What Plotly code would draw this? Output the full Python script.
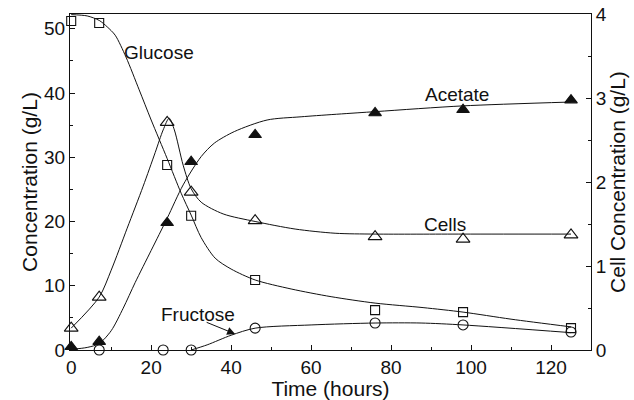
import plotly.graph_objects as go

# ---- measured data (markers) ----
time_pts = [0, 7, 24, 30, 46, 76, 98, 125]
glucose = [51.2, 50.9, 28.8, 20.9, 10.9, 6.2, 5.9, 3.4]
acetate = [0.5, 1.3, 19.8, 29.3, 33.5, 36.9, 37.4, 38.9]
cells = [0.26, 0.63, 2.71, 1.88, 1.54, 1.35, 1.32, 1.37]
fructose_t = [7, 23, 30, 46, 76, 98, 125]
fructose = [0, 0, 0, 3.4, 4.2, 3.9, 2.8]

# ---- fitted curves ----
glucose_fit_t = [0, 4, 7, 9, 11, 13.7, 17, 20, 24, 27.5, 30, 32.5, 36, 40, 46, 55, 65, 76, 88, 98, 110, 125]
glucose_fit = [52.2, 52.0, 51.3, 50.3, 49.0, 45.6, 40.5, 35.8, 29.8, 24.4, 21.0, 17.5, 14.3, 12.6, 10.9, 9.5, 8.3, 7.3, 6.6, 5.9, 4.8, 3.6]
acetate_fit_t = [0, 4, 7, 10, 13, 16, 20, 24, 28, 32.5, 35.8, 40.8, 49, 57.5, 76, 98, 125]
acetate_fit = [0.1, 0.4, 1.0, 3.0, 6.5, 10.5, 15.5, 20.5, 25.7, 30.1, 32.2, 34.0, 35.8, 36.3, 37.1, 38.0, 38.6]
cells_fit_t = [0, 7, 10, 14, 18, 21, 23, 24.5, 25.8, 28, 30, 32.5, 38, 46, 56, 66, 76, 98, 125]
cells_fit = [0.26, 0.63, 0.95, 1.45, 1.95, 2.35, 2.62, 2.76, 2.62, 2.2, 1.92, 1.76, 1.62, 1.53, 1.44, 1.39, 1.38, 1.38, 1.38]
fructose_fit_t = [30, 34, 40, 46, 60, 76, 87.5, 98, 125]
fructose_fit = [0, 0.8, 2.3, 3.4, 3.9, 4.2, 4.2, 3.9, 2.7]

x_ticks = [0, 20, 40, 60, 80, 100, 120]
y_ticks = [0, 10, 20, 30, 40, 50]
y2_ticks = [0, 1, 2, 3, 4]

FONT = "Liberation Sans, Arial, Helvetica, sans-serif"
BLACK = "#111111"

fig = go.Figure()

def curve(t, v, axis="y"):
    fig.add_trace(go.Scatter(x=t, y=v, mode="lines", yaxis=axis,
                             line=dict(color=BLACK, width=1, shape="spline", smoothing=0.8),
                             hoverinfo="skip", showlegend=False))

curve(glucose_fit_t, glucose_fit)
curve(acetate_fit_t, acetate_fit)
curve(fructose_fit_t, fructose_fit)
curve(cells_fit_t, cells_fit, "y2")

def marks(t, v, symbol, size, axis="y", name=""):
    fig.add_trace(go.Scatter(x=t, y=v, mode="markers", yaxis=axis, name=name,
                             marker=dict(symbol=symbol, size=size, color=BLACK,
                                         line=dict(color=BLACK, width=1.1)),
                             showlegend=False, cliponaxis=False))

marks(time_pts, glucose, "square-open", 9, name="Glucose")
marks(fructose_t, fructose, "circle-open", 10, name="Fructose")
marks(time_pts, acetate, "triangle-up", 11, name="Acetate")
marks(time_pts, cells, "triangle-up-open", 12, "y2", name="Cells")

ann_font = dict(family=FONT, size=19, color=BLACK)
fig.add_annotation(x=22, y=46.3, text="Glucose", showarrow=False, font=ann_font)
fig.add_annotation(x=96.5, y=39.7, text="Acetate", showarrow=False, font=ann_font)
fig.add_annotation(x=93.5, y=19.5, text="Cells", showarrow=False, font=ann_font)
fig.add_annotation(x=31.8, y=5.6, text="Fructose", showarrow=False, font=ann_font)
fig.add_annotation(x=41, y=2.5, ax=33.5, ay=4.4, axref="x", ayref="y", text="",
                   showarrow=True, arrowhead=2, arrowsize=1.6, arrowwidth=1, arrowcolor=BLACK)

axis_common = dict(showline=True, linecolor=BLACK, linewidth=1, ticks="inside", ticklen=5,
                   tickcolor=BLACK, showgrid=False, zeroline=False, automargin=False,
                   tickfont=dict(family=FONT, size=19, color=BLACK))

title_font = dict(family=FONT, size=21, color=BLACK)

fig.update_layout(
    width=634, height=400,
    margin=dict(l=70, r=43, t=14, b=50),
    paper_bgcolor="white", plot_bgcolor="white",
    xaxis=dict(range=[-0.3, 130], tickvals=x_ticks, mirror=True,
               minor=dict(dtick=10, ticks="inside", ticklen=3, tickcolor=BLACK),
               title=dict(text="Time (hours)", font=title_font, standoff=0),
               **axis_common),
    yaxis=dict(range=[0, 52.3], tickvals=y_ticks,
               minor=dict(dtick=5, ticks="inside", ticklen=3, tickcolor=BLACK),
               title=dict(text="Concentration (g/L)", font=title_font, standoff=0),
               **axis_common),
    yaxis2=dict(range=[0, 4], tickvals=y2_ticks, overlaying="y", side="right",
                minor=dict(dtick=0.5, ticks="inside", ticklen=3, tickcolor=BLACK),
                title=dict(text="Cell Concentration (g/L)", font=title_font, standoff=0),
                **axis_common),
)

fig.write_html("out.html", config={"displayModeBar": False},
               post_script="document.body.style.margin='0';document.body.style.overflow='hidden';")
